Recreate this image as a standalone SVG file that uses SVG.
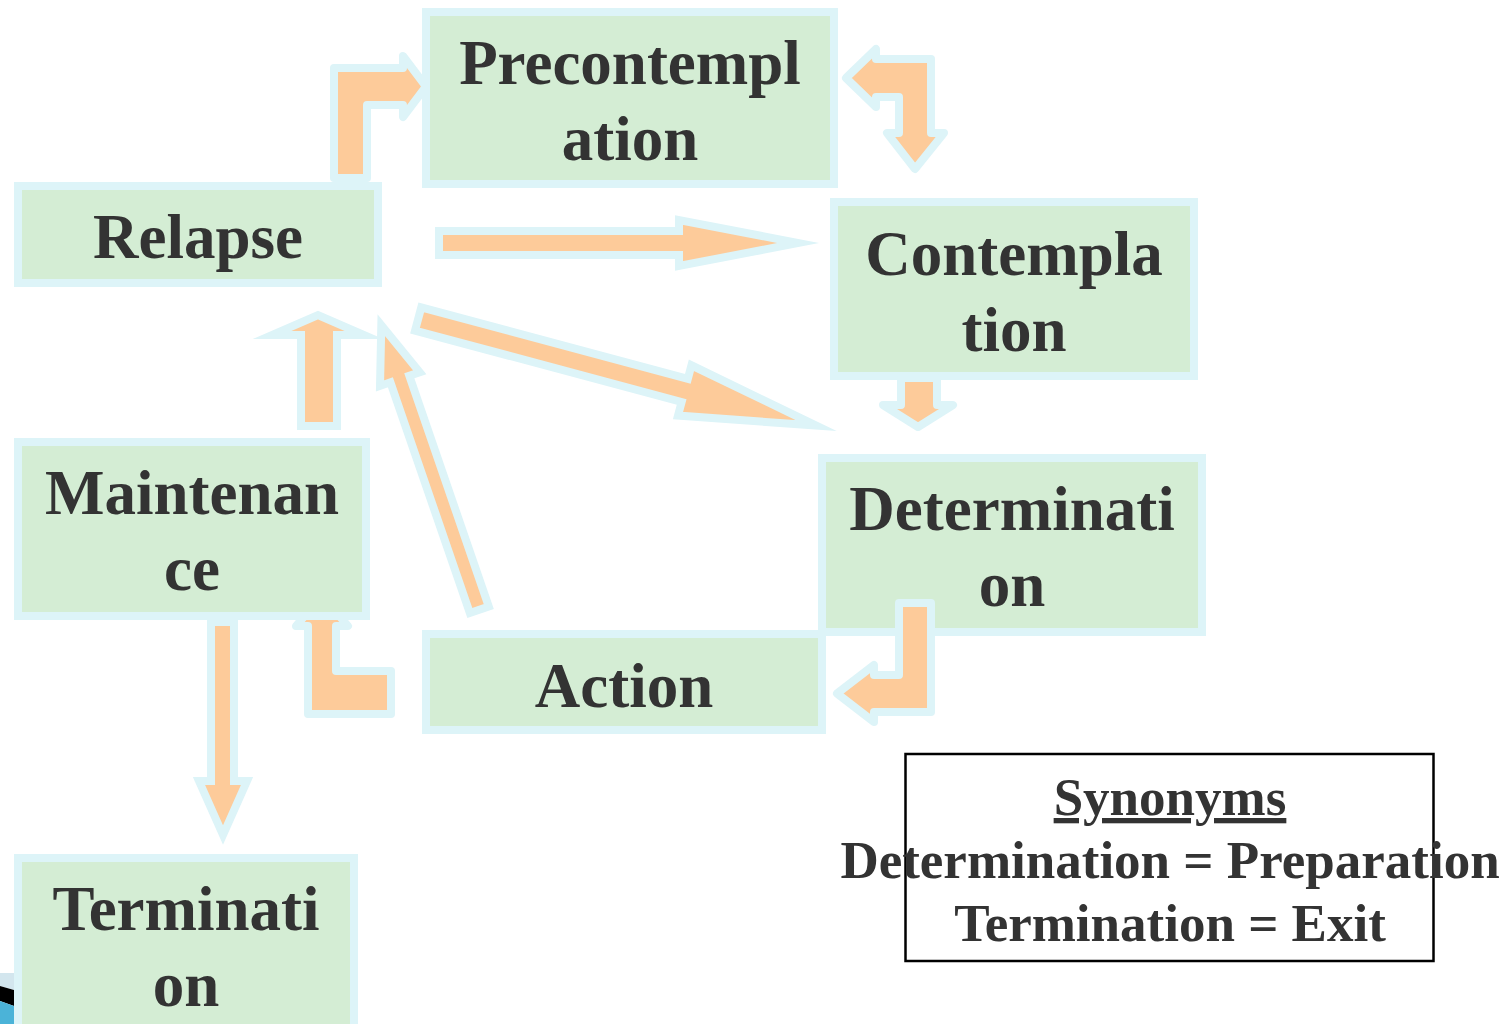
<svg xmlns="http://www.w3.org/2000/svg" width="1512" height="1024" viewBox="0 0 1512 1024">
  <style>
    .box { fill: #d4edd4; stroke: #ddf4f8; stroke-width: 8; }
    .lbl { font-family: "Liberation Serif", "Times New Roman", serif; font-weight: bold; font-size: 63px; fill: #333333; text-anchor: middle; }
    .syn { font-family: "Liberation Serif", "Times New Roman", serif; font-weight: bold; font-size: 53px; fill: #333333; text-anchor: middle; }
    .arw { fill: #fdcb9a; stroke: #ddf4f8; stroke-width: 8; stroke-linejoin: miter; stroke-miterlimit: 12; }
    .arwr { fill: #fdcb9a; stroke: #ddf4f8; stroke-width: 8; stroke-linejoin: round; }
  </style>
  <defs>
    <clipPath id="belowMaint"><rect x="0" y="620" width="1512" height="404"/></clipPath>
  </defs>
  <rect width="1512" height="1024" fill="#ffffff"/>

  <!-- bottom-left picture fragment -->
  <g id="fragment">
    <polygon points="0,973 14,973 14,990 0,986" fill="#d3e6ee"/>
    <polygon points="0,986 14,990 14,1006 0,1001" fill="#000000"/>
    <polygon points="0,1001 14,1006 14,1024 0,1024" fill="#4bb3d8"/>
  </g>

  <g id="node-precontemplation">
    <rect class="box" x="426" y="12" width="408" height="172"/>
    <text class="lbl" x="630" y="84">Precontempl</text>
    <text class="lbl" x="630" y="160">ation</text>
  </g>
  <g id="node-relapse">
    <rect class="box" x="18" y="186" width="360" height="97"/>
    <text class="lbl" x="198" y="258">Relapse</text>
  </g>
  <g id="node-contemplation">
    <rect class="box" x="834" y="202" width="360" height="174"/>
    <text class="lbl" x="1014" y="275">Contempla</text>
    <text class="lbl" x="1014" y="351">tion</text>
  </g>
  <g id="node-determination">
    <rect class="box" x="822" y="458" width="380" height="174"/>
    <text class="lbl" x="1012" y="530">Determinati</text>
    <text class="lbl" x="1012" y="606">on</text>
  </g>
  <g id="node-maintenance">
    <rect class="box" x="18" y="442" width="348" height="174"/>
    <text class="lbl" x="192" y="514">Maintenan</text>
    <text class="lbl" x="192" y="590">ce</text>
  </g>
  <g id="node-action">
    <rect class="box" x="426" y="634" width="396" height="96"/>
    <text class="lbl" x="624" y="707">Action</text>
  </g>
  <g id="node-termination">
    <rect class="box" x="18" y="858" width="336" height="180"/>
    <text class="lbl" x="186" y="930">Terminati</text>
    <text class="lbl" x="186" y="1006">on</text>
  </g>

  <g id="connectors">
    <!-- Relapse -> Precontemplation -->
    <path class="arwr" d="M334,178 L334,68 L403,68 L403,56 L426,86.5 L403,117 L403,105 L367,105 L367,178 Z"/>
    <!-- Precontemplation <-> Contemplation -->
    <path class="arwr" d="M846,78 L876,49 L876,59 L931,59 L931,133 L944,133 L915,169 L887,133 L899,133 L899,97 L876,97 L876,107 Z"/>
    <!-- Relapse -> Contemplation -->
    <path class="arw" d="M439,231 L679,231 L679,220 L798,243 L679,266 L679,255 L439,255 Z"/>
    <!-- Relapse -> Determination -->
    <path class="arw" transform="translate(422,320) rotate(15)" d="M-4,-12 L272,-12 L272,-26 L408,0 L272,26 L272,12 L-4,12 Z"/>
    <!-- Action -> Relapse -->
    <path class="arw" transform="translate(478,606) rotate(-19)" d="M-10,4 L-10,-240 L-21,-240 L0,-297 L21,-240 L10,-240 L10,4 Z"/>
    <!-- Maintenance -> Relapse -->
    <path class="arw" d="M301,426 L301,335 L272,335 L318,315 L364,335 L337,335 L337,426 Z"/>
    <!-- Contemplation -> Determination -->
    <path class="arwr" d="M901,378 L901,405 L883,405 L918,427 L953,405 L937,405 L937,378 Z"/>
    <!-- Determination -> Action -->
    <path class="arwr" d="M899,603 L931,603 L931,712 L874,712 L874,722 L837,693.5 L874,665 L874,675 L899,675 Z"/>
    <!-- Action -> Maintenance -->
    <path class="arwr" clip-path="url(#belowMaint)" d="M308,714 L308,626 L296,626 L322,596 L348,626 L336,626 L336,671 L391,671 L391,714 Z"/>
    <!-- Maintenance -> Termination -->
    <path class="arw" d="M211,622 L211,781 L199,781 L223,835 L247,781 L234,781 L234,622 Z"/>
  </g>

  <g id="synonyms">
    <rect x="905.5" y="754" width="528" height="207" fill="none" stroke="#000000" stroke-width="2.5"/>
    <text class="syn" x="1170" y="815" text-decoration="underline">Synonyms</text>
    <text class="syn" x="1170" y="878">Determination = Preparation</text>
    <text class="syn" x="1170" y="941">Termination = Exit</text>
  </g>
</svg>
